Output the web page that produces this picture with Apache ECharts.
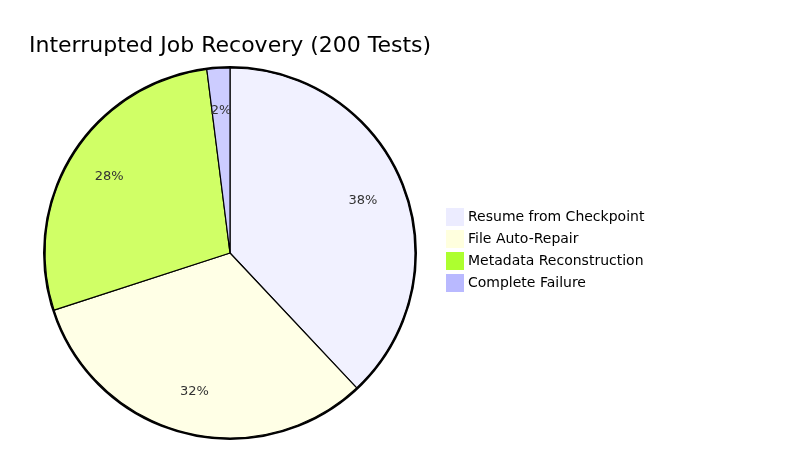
<!DOCTYPE html>
<html><head><meta charset="utf-8">
<script src="https://cdn.jsdelivr.net/npm/echarts@6/dist/echarts.min.js"></script>
<style>html,body{margin:0;padding:0;background:#fff}#c{width:798px;height:470px}</style>
</head><body><div id="c"></div>
<script>
const categories = ["Resume from Checkpoint","File Auto-Repair","Metadata Reconstruction","Complete Failure"];
const values = [76, 64, 56, 4];
const sliceColors = ["#f1f1ff","#ffffe6","#d0ff66","#ccccff"];
const legendColors = ["#ececff","#ffffde","#adff2f","#b9b9ff"];
const total = values.reduce((a,b)=>a+b,0);
const chart = echarts.init(document.getElementById('c'));
const font = "'DejaVu Sans', Verdana, sans-serif";
const center = [230, 253];
chart.setOption({
  animation:false,
  title:{text:"Interrupted Job Recovery (200 Tests)",left:24,top:30,textStyle:{fontFamily:font,fontSize:22,fontWeight:'normal',color:'#000'}},
  graphic:[
    {type:'circle',shape:{cx:center[0],cy:center[1],r:186},style:{fill:'none',stroke:'#000',lineWidth:2},z:10},
    ...categories.map((c,i)=>({type:'group',left:446,top:208+i*22,children:[
      {type:'rect',shape:{x:0,y:0,width:18,height:18},style:{fill:legendColors[i]}},
      {type:'text',style:{x:22,y:9,text:c,fontFamily:font,fontSize:14,fill:'#000',textVerticalAlign:'middle'}}
    ]}))
  ],
  series:[
    {type:'pie',center:center,radius:[0,185],startAngle:90,clockwise:true,silent:true,
     label:{show:false},labelLine:{show:false},
     itemStyle:{borderColor:'#000',borderWidth:1.2},
     data:categories.map((c,i)=>({name:c,value:values[i],itemStyle:{color:sliceColors[i]}}))},
    {type:'pie',center:center,radius:[0,280],startAngle:90,clockwise:true,silent:true,
     itemStyle:{color:'transparent'},
     label:{show:true,position:'inside',fontFamily:font,fontSize:13,color:'#333',
       formatter:p=>Math.round(p.value/total*100)+'%'},
     labelLine:{show:false},
     data:categories.map((c,i)=>({name:c,value:values[i]}))}
  ]
});
</script></body></html>
